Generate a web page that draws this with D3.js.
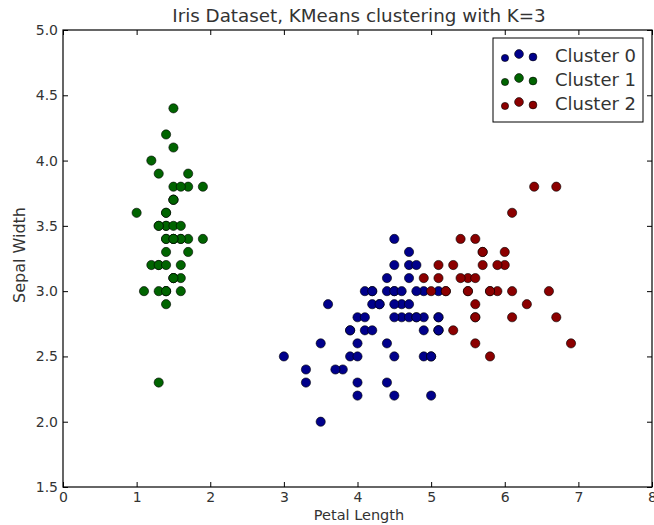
<!DOCTYPE html>
<html><head><meta charset="utf-8">
<script src="https://cdn.jsdelivr.net/npm/d3@7"></script>
<style>body{margin:0;background:#fff;} svg{display:block;}</style>
</head><body>
<svg id="c" width="654" height="525"></svg>
<script>
const titleText = "Iris Dataset, KMeans clustering with K=3";
const xLabel = "Petal Length";
const yLabel = "Sepal Width";
const xTicks = [0,1,2,3,4,5,6,7,8];
const yTicks = [1.5,2.0,2.5,3.0,3.5,4.0,4.5,5.0];
const clusterNames = ["Cluster 0","Cluster 1","Cluster 2"];
const clusterColors = ["#00008b","#006400","#8b0000"];

// Cluster 0
const c0PetalLength = [4.7,4.5,4.0,4.6,4.5,4.7,3.3,4.6,3.9,3.5,4.2,4.0,4.7,3.6,4.4,4.5,4.1,4.5,3.9,4.8,4.0,4.9,4.7,4.3,4.4,4.8,4.5,3.5,3.8,3.7,3.9,5.1,4.5,4.5,4.7,4.4,4.1,4.0,4.4,4.6,4.0,3.3,4.2,4.2,4.2,4.3,3.0,4.1,
  5.1,4.5,5.0,5.1,5.0,4.9,4.9,4.8,4.9,5.1,4.8,5.1,5.0,5.1];
const c0SepalWidth = [3.2,3.2,2.3,2.8,2.8,3.3,2.4,2.9,2.7,2.0,3.0,2.2,2.9,2.9,3.1,3.0,2.7,2.2,2.5,3.2,2.8,2.5,2.8,2.9,3.0,2.8,2.9,2.6,2.4,2.4,2.7,2.7,3.0,3.4,3.1,2.3,3.0,2.5,2.6,3.0,2.6,2.3,2.7,3.0,2.9,2.9,2.5,2.8,
  2.7,2.5,2.5,2.8,2.2,2.8,2.7,2.8,3.0,2.8,3.0,2.7,2.5,3.0];
// Cluster 1
const c1PetalLength = [1.4,1.4,1.3,1.5,1.4,1.7,1.4,1.5,1.4,1.5,1.5,1.6,1.4,1.1,1.2,1.5,1.3,1.4,1.7,1.5,1.7,1.5,1.0,1.7,1.9,1.6,1.6,1.5,1.4,1.6,1.6,1.5,1.5,1.4,1.5,1.2,1.3,1.4,1.3,1.5,1.3,1.3,1.3,1.6,1.9,1.4,1.6,1.4,1.5,1.4];
const c1SepalWidth = [3.5,3.0,3.2,3.1,3.6,3.9,3.4,3.4,2.9,3.1,3.7,3.4,3.0,3.0,4.0,4.4,3.9,3.5,3.8,3.8,3.4,3.7,3.6,3.3,3.4,3.0,3.4,3.5,3.4,3.2,3.1,3.4,4.1,4.2,3.1,3.2,3.5,3.6,3.0,3.4,3.5,2.3,3.2,3.5,3.8,3.0,3.8,3.2,3.7,3.3];
// Cluster 2
const c2PetalLength = [4.9,5.0,6.0,5.9,5.6,5.8,6.6,6.3,5.8,6.1,5.1,5.3,5.5,5.3,5.5,6.7,6.9,5.7,6.7,5.7,6.0,5.6,5.8,6.1,6.4,5.6,5.6,6.1,5.6,5.5,5.4,5.6,5.1,5.9,5.7,5.2,5.2,5.4];
const c2SepalWidth = [3.1,3.0,3.3,3.0,2.9,3.0,3.0,2.9,2.5,3.6,3.2,2.7,3.0,3.2,3.0,3.8,2.6,3.2,2.8,3.3,3.2,2.8,3.0,2.8,3.8,2.8,2.6,3.0,3.4,3.1,3.1,3.1,3.1,3.2,3.3,3.0,3.0,3.4];

const clusters = [
  {x:c0PetalLength, y:c0SepalWidth},
  {x:c1PetalLength, y:c1SepalWidth},
  {x:c2PetalLength, y:c2SepalWidth}
];

const svg = d3.select("#c");
const L=63, R=652, T=30, B=487;
const x = d3.scaleLinear().domain([0,8]).range([L,R]);
const y = d3.scaleLinear().domain([1.5,5.0]).range([B,T]);
const font = "DejaVu Sans, sans-serif";
const txtCol = "#333";

const plot = svg.append("g");
clusters.forEach((c,i)=>{
  plot.selectAll(null).data(d3.range(c.x.length)).enter().append("circle")
    .attr("cx",j=>x(c.x[j])).attr("cy",j=>y(c.y[j])).attr("r",4.6)
    .attr("fill",clusterColors[i]).attr("stroke","#000").attr("stroke-width",0.6);
});

// axes with inward ticks
const ax = d3.axisBottom(x).tickValues(xTicks).tickSize(-5).tickPadding(5).tickFormat(d3.format("d"));
const axT = d3.axisTop(x).tickValues(xTicks).tickSize(-5).tickFormat("");
const ay = d3.axisLeft(y).tickValues(yTicks).tickSize(-5).tickPadding(5).tickFormat(d3.format(".1f"));
const ayR = d3.axisRight(y).tickValues(yTicks).tickSize(-5).tickFormat("");
function style(g){
  g.selectAll(".domain").remove();
  g.selectAll("line").attr("stroke","#000");
  g.selectAll("text").attr("font-family",font).attr("font-size",14).attr("fill",txtCol);
}
svg.append("g").attr("transform",`translate(0,${B})`).call(ax).call(style);
svg.append("g").attr("transform",`translate(0,${T})`).call(axT).call(style);
svg.append("g").attr("transform",`translate(${L},0)`).call(ay).call(style);
svg.append("g").attr("transform",`translate(${R},0)`).call(ayR).call(style);
svg.append("rect").attr("x",L).attr("y",T).attr("width",R-L).attr("height",B-T)
  .attr("fill","none").attr("stroke","#000").attr("stroke-width",1.2);

svg.append("text").attr("x",359).attr("y",22).attr("text-anchor","middle")
  .attr("font-family",font).attr("font-size",18.3).attr("fill",txtCol).text(titleText);
svg.append("text").attr("x",359).attr("y",520).attr("text-anchor","middle")
  .attr("font-family",font).attr("font-size",14.5).attr("fill",txtCol).text(xLabel);
svg.append("text").attr("transform",`translate(25,255) rotate(-90)`).attr("text-anchor","middle")
  .attr("font-family",font).attr("font-size",16).attr("fill",txtCol).text(yLabel);

// legend
const lg = svg.append("g");
lg.append("rect").attr("x",493).attr("y",38).attr("width",150).attr("height",84)
  .attr("fill","#fff").attr("stroke","#000").attr("stroke-width",1);
const offs = [[505,2,3.6],[519,-2,4.4],[533,1,3.9]];
clusterNames.forEach((n,i)=>{
  const cy = 56 + i*24;
  offs.forEach(o=>{
    lg.append("circle").attr("cx",o[0]).attr("cy",cy+o[1]).attr("r",o[2])
      .attr("fill",clusterColors[i]).attr("stroke","#000").attr("stroke-width",0.6);
  });
  lg.append("text").attr("x",555).attr("y",cy+6).attr("font-family",font)
    .attr("font-size",18).attr("fill",txtCol).text(n);
});
</script>
</body></html>
